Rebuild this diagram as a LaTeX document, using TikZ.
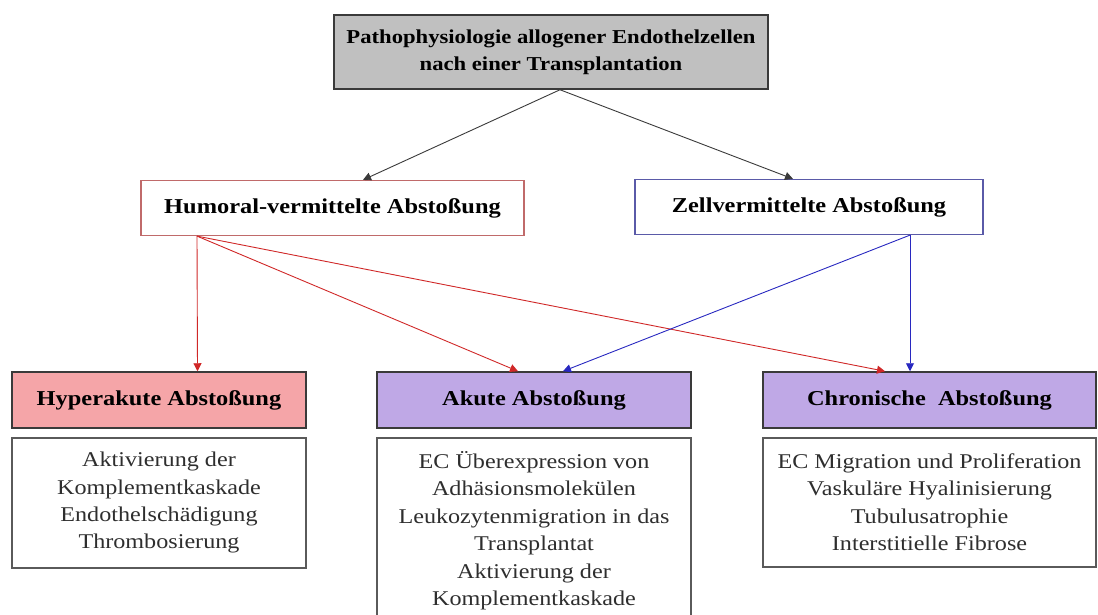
\documentclass[tikz,border=0pt]{standalone}
\usepackage{fontspec}
\setmainfont{Liberation Serif}[FakeStretch=1.15]
\usetikzlibrary{arrows.meta,positioning}
\definecolor{gxgray}{HTML}{C0C0C0}
\definecolor{gxline}{HTML}{3A3A3A}
\definecolor{gxbox}{HTML}{5A5A5A}
\definecolor{gxtext}{HTML}{2E2E2E}
\definecolor{gxpink}{HTML}{F5A5A8}
\definecolor{gxlilac}{HTML}{BFA8E6}
\definecolor{gxred}{HTML}{D02828}
\definecolor{gxblue}{HTML}{2828C0}
\definecolor{gxredline}{HTML}{C06A6A}
\definecolor{gxblueline}{HTML}{5A5AA8}
\tikzset{
  root/.style={rectangle,draw=gxline,line width=1.5pt,fill=gxgray,
               minimum width=434pt,minimum height=74pt,align=center,
               font=\bfseries\fontsize{19.7}{27}\selectfont},
  cause/.style={rectangle,line width=1.2pt,fill=white,minimum height=55pt,
                font=\bfseries\fontsize{21.2}{26}\selectfont},
  kind/.style={rectangle,draw=gxline,line width=1.5pt,minimum height=56pt,
               font=\bfseries\fontsize{21.2}{26}\selectfont},
  sym/.style={rectangle,draw=gxbox,line width=2pt,fill=white,align=center,
              inner sep=0pt,font=\fontsize{21}{27.4}\selectfont,text=gxtext},
  link/.style={-{Triangle[length=8pt,width=8pt]},line width=0.9pt,draw=gxline},
  redlink/.style={link,draw=gxred},
  bluelink/.style={link,draw=gxblue},
}

\begin{document}
\begin{tikzpicture}[x=1pt,y=-1pt,node distance=8pt]
\useasboundingbox (0,0) rectangle (1098,614);
\node[root] (top) at (551,52) {Pathophysiologie allogener Endothelzellen\\nach einer Transplantation};
\node[cause,draw=gxredline,minimum width=383pt] (humoral) at (332.5,208) {Humoral-vermittelte Abstoßung};
\node[cause,draw=gxblueline,minimum width=348pt] (zell) at (809,207) {Zellvermittelte Abstoßung};

\node[kind,fill=gxpink,minimum width=294pt] (hyper) at (159,400) {Hyperakute Abstoßung};
\node[kind,fill=gxlilac,minimum width=314pt] (akute) at (534,400) {Akute Abstoßung};
\node[kind,fill=gxlilac,minimum width=333pt] (chron) at (929.5,400) {Chronische\ \ Abstoßung};

\node[sym,below=of hyper,minimum width=294pt,minimum height=130pt] (hypertxt) {Aktivierung der\\Komplementkaskade\\Endothelschädigung\\Thrombosierung};
\node[sym,below=of akute,minimum width=314pt,minimum height=186pt] (akutetxt) {EC Überexpression von\\Adhäsionsmolekülen\\Leukozytenmigration in das\\Transplantat\\Aktivierung der\\Komplementkaskade};
\node[sym,below=of chron,minimum width=333pt,minimum height=129pt] (chrontxt) {EC Migration und Proliferation\\Vaskuläre Hyalinisierung\\Tubulusatrophie\\Interstitielle Fibrose};

\draw[link] ([xshift=9pt]top.south) -- ([xshift=30.5pt]humoral.north);
\draw[link] ([xshift=9pt]top.south) -- ([xshift=-16pt]zell.north);

\draw[redlink] ([xshift=-135.5pt]humoral.south) -- ([xshift=38.5pt]hyper.north);
\draw[redlink] ([xshift=-135.5pt]humoral.south) -- ([xshift=-16pt]akute.north);
\draw[redlink] ([xshift=-135.5pt]humoral.south) -- ([xshift=-44.5pt]chron.north);
\draw[bluelink] ([xshift=101pt]zell.south) -- ([xshift=29pt]akute.north);
\draw[bluelink] ([xshift=101pt]zell.south) -- ([xshift=-19.5pt]chron.north);
\end{tikzpicture}
\end{document}
